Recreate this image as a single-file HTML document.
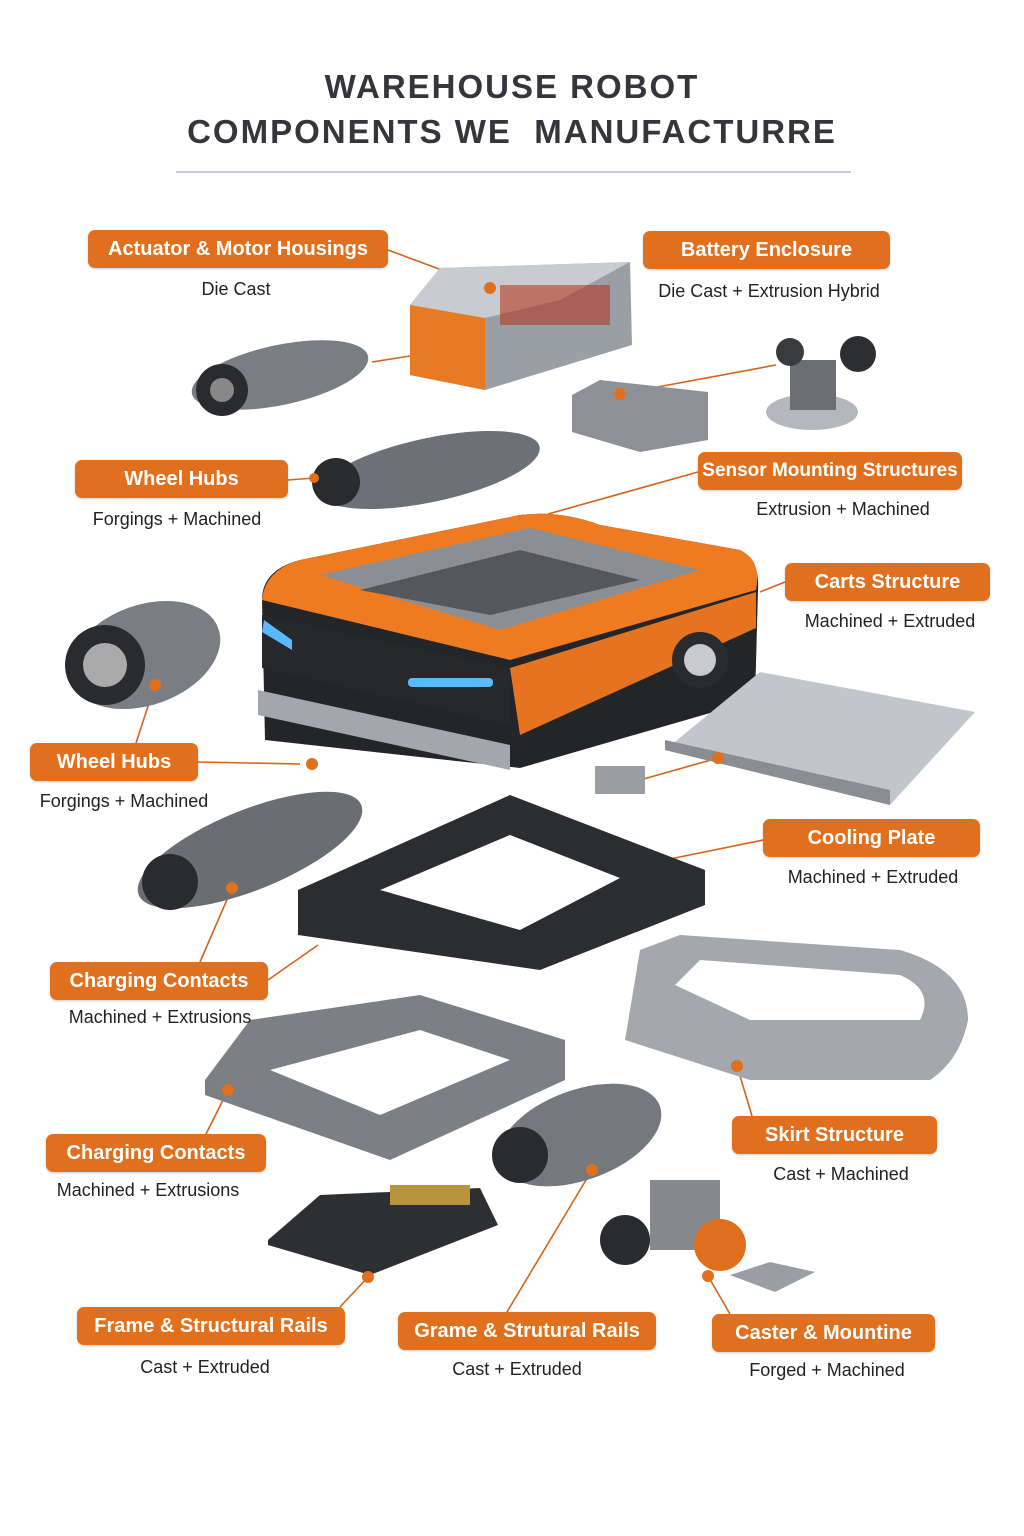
<!DOCTYPE html>
<html><head><meta charset="utf-8"><style>
html,body{margin:0;padding:0;background:#fff}
body{width:1024px;height:1536px;position:relative;overflow:hidden;font-family:"Liberation Sans",sans-serif}
svg{position:absolute;left:0;top:0}
.t{position:absolute;left:0;width:1024px;text-align:center;font-weight:bold;font-size:33px;color:#34363c;letter-spacing:2px}
.p{position:absolute;background:#e0701e;color:#fff;font-size:20px;font-weight:bold;text-align:center;border-radius:7px;line-height:38px;height:38px;box-shadow:0 1px 2px rgba(0,0,0,.2)}
.s{position:absolute;font-size:18px;color:#222;text-align:center;width:300px}
</style></head><body>
<svg width="1024" height="1536" viewBox="0 0 1024 1536">
<line x1="176" y1="172" x2="851" y2="172" stroke="#c9ccd3" stroke-width="2"/>
<g stroke="#d4641a" stroke-width="1.6" fill="none">
<polyline points="388,250 490,288"/><polyline points="372,362 410,356"/>
<polyline points="776,365 620,394"/><polyline points="288,480 314,478"/>
<polyline points="698,472 548,514"/><polyline points="785,582 760,592"/>
<polyline points="155,685 136,743"/><polyline points="198,762 300,764"/>
<polyline points="763,840 665,860"/><polyline points="718,758 640,780"/>
<polyline points="232,888 200,962"/><polyline points="268,980 318,945"/>
<polyline points="228,1090 206,1134"/><polyline points="737,1066 752,1116"/>
<polyline points="340,1307 368,1277"/><polyline points="507,1312 592,1170"/>
<polyline points="708,1276 730,1314"/>
</g>
<!-- battery -->
<polygon points="410,305 440,268 630,262 632,345 485,390 410,375" fill="#9a9ea5"/>
<polygon points="410,305 485,318 485,390 410,375" fill="#e77a22"/>
<polygon points="410,305 440,268 630,262 560,300 485,318" fill="#c8cbd0"/>
<rect x="500" y="285" width="110" height="40" fill="#b33a20" opacity=".6"/>
<!-- actuator -->
<ellipse cx="280" cy="375" rx="90" ry="30" fill="#7a7d82" transform="rotate(-12 280 375)"/>
<circle cx="222" cy="390" r="26" fill="#2a2b2e"/><circle cx="222" cy="390" r="12" fill="#888"/>
<!-- sensor -->
<polygon points="572,395 600,380 708,392 708,440 640,452 572,432" fill="#8d9096"/>
<ellipse cx="812" cy="412" rx="46" ry="18" fill="#b4b7bc"/><rect x="790" y="360" width="46" height="50" fill="#6b6e73"/>
<circle cx="858" cy="354" r="18" fill="#2d2e31"/><circle cx="790" cy="352" r="14" fill="#3a3b3e"/>
<!-- wheel hubs top -->
<ellipse cx="430" cy="470" rx="112" ry="32" fill="#6d7076" transform="rotate(-12 430 470)"/>
<circle cx="336" cy="482" r="24" fill="#2a2b2e"/>
<!-- robot -->
<path d="M262,600 Q262,570 300,560 L520,515 Q560,510 600,525 L740,550 Q760,560 758,590 L755,700 L520,768 L265,740 Z" fill="#232528"/>
<path d="M262,600 Q265,570 300,560 L520,515 Q560,510 600,525 L740,550 Q762,560 756,590 L510,660 Z" fill="#ee7b22"/>
<path d="M262,615 L510,668 L510,725 L262,668 Z" fill="#26282b"/>
<path d="M510,668 L756,592 L756,628 L520,735 Z" fill="#e5731f"/>
<polygon points="320,575 530,528 700,570 500,630" fill="#8b8e93"/>
<polygon points="360,590 520,550 640,580 490,615" fill="#55575c"/>
<path d="M258,690 L258,715 L510,770 L510,745 Z" fill="#a3a6ab"/>
<rect x="408" y="678" width="85" height="9" rx="4" fill="#5ab8ff"/>
<path d="M264,620 L292,640 L292,650 L262,632 Z" fill="#5ab8ff"/>
<circle cx="700" cy="660" r="28" fill="#2a2b2e"/><circle cx="700" cy="660" r="16" fill="#c8cacd"/>
<!-- cooling plate -->
<polygon points="665,750 760,672 975,712 890,805" fill="#c2c5ca"/>
<polygon points="665,750 890,805 890,790 665,740" fill="#8a8d92"/>
<rect x="595" y="766" width="50" height="28" fill="#9a9da2"/>
<!-- wheel hub left -->
<ellipse cx="145" cy="655" rx="78" ry="50" fill="#7a7d82" transform="rotate(-20 145 655)"/>
<circle cx="105" cy="665" r="40" fill="#2a2b2e"/><circle cx="105" cy="665" r="22" fill="#aaa"/>
<!-- charging motor -->
<ellipse cx="250" cy="850" rx="120" ry="40" fill="#6a6d72" transform="rotate(-22 250 850)"/>
<circle cx="170" cy="882" r="28" fill="#2a2b2e"/>
<!-- black frame -->
<polygon points="298,890 510,795 705,870 705,905 540,970 298,935" fill="#2b2d30"/>
<polygon points="380,890 510,835 620,878 520,930" fill="#fff"/>
<!-- skirt -->
<path d="M625,1040 L640,950 L680,935 L900,950 Q968,970 968,1020 Q960,1060 930,1080 L750,1080 Z" fill="#a4a7ac"/>
<path d="M675,985 L700,960 L900,975 Q935,990 920,1020 L750,1020 Z" fill="#fff"/>
<!-- silver frame -->
<polygon points="205,1080 250,1020 420,995 565,1040 565,1080 390,1160 205,1095" fill="#7c7f84"/>
<polygon points="270,1070 420,1030 510,1060 380,1115" fill="#fff"/>
<!-- caster assembly mid -->
<ellipse cx="580" cy="1135" rx="85" ry="45" fill="#75787d" transform="rotate(-20 580 1135)"/>
<circle cx="520" cy="1155" r="28" fill="#2a2b2e"/>
<!-- charging contacts -->
<polygon points="268,1240 320,1195 480,1188 498,1225 370,1275 268,1245" fill="#2d2f32"/>
<rect x="390" y="1185" width="80" height="20" fill="#b8943e"/>
<!-- caster -->
<rect x="650" y="1180" width="70" height="70" fill="#85888d"/>
<circle cx="625" cy="1240" r="25" fill="#2a2b2e"/><circle cx="720" cy="1245" r="26" fill="#e0701e"/>
<polygon points="730,1275 770,1262 815,1272 775,1292" fill="#9a9da2"/>
<g fill="#e0701e">
<circle cx="490" cy="288" r="6"/><circle cx="620" cy="394" r="6"/><circle cx="314" cy="478" r="5"/>
<circle cx="155" cy="685" r="6"/><circle cx="312" cy="764" r="6"/><circle cx="718" cy="758" r="6"/>
<circle cx="232" cy="888" r="6"/><circle cx="228" cy="1090" r="6"/><circle cx="737" cy="1066" r="6"/>
<circle cx="368" cy="1277" r="6"/><circle cx="592" cy="1170" r="6"/><circle cx="708" cy="1276" r="6"/>
</g>
</svg>
<div class="t" style="top:68px">WAREHOUSE ROBOT</div>
<div class="t" style="top:113px">COMPONENTS WE&nbsp; MANUFACTURRE</div>

<div class="p" style="left:88px;top:230px;width:300px">Actuator &amp; Motor Housings</div>
<div class="s" style="left:86px;top:279px">Die Cast</div>
<div class="p" style="left:643px;top:231px;width:247px">Battery Enclosure</div>
<div class="s" style="left:619px;top:281px">Die Cast + Extrusion Hybrid</div>
<div class="p" style="left:75px;top:460px;width:213px">Wheel Hubs</div>
<div class="s" style="left:27px;top:509px">Forgings + Machined</div>
<div class="p" style="left:698px;top:452px;width:264px;font-size:19px">Sensor Mounting Structures</div>
<div class="s" style="left:693px;top:499px">Extrusion + Machined</div>
<div class="p" style="left:785px;top:563px;width:205px">Carts Structure</div>
<div class="s" style="left:740px;top:611px">Machined + Extruded</div>
<div class="p" style="left:30px;top:743px;width:168px">Wheel Hubs</div>
<div class="s" style="left:-26px;top:791px">Forgings + Machined</div>
<div class="p" style="left:763px;top:819px;width:217px">Cooling Plate</div>
<div class="s" style="left:723px;top:867px">Machined + Extruded</div>
<div class="p" style="left:50px;top:962px;width:218px">Charging Contacts</div>
<div class="s" style="left:10px;top:1007px">Machined + Extrusions</div>
<div class="p" style="left:46px;top:1134px;width:220px">Charging Contacts</div>
<div class="s" style="left:-2px;top:1180px">Machined + Extrusions</div>
<div class="p" style="left:732px;top:1116px;width:205px">Skirt Structure</div>
<div class="s" style="left:691px;top:1164px">Cast + Machined</div>
<div class="p" style="left:77px;top:1307px;width:268px">Frame &amp; Structural Rails</div>
<div class="s" style="left:55px;top:1357px">Cast + Extruded</div>
<div class="p" style="left:398px;top:1312px;width:258px">Grame &amp; Strutural Rails</div>
<div class="s" style="left:367px;top:1359px">Cast + Extruded</div>
<div class="p" style="left:712px;top:1314px;width:223px">Caster &amp; Mountine</div>
<div class="s" style="left:677px;top:1360px">Forged + Machined</div>
</body></html>
